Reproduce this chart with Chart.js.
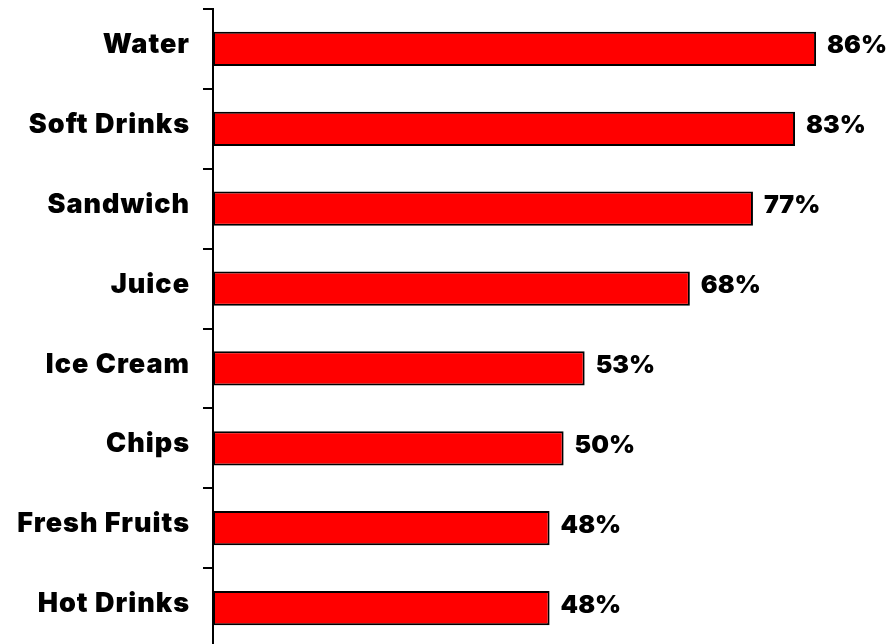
<!DOCTYPE html>
<html>
<head>
<meta charset="utf-8">
<title>Popular items</title>
<script src="https://cdn.jsdelivr.net/npm/chart.js@4/dist/chart.umd.min.js"></script>
<style>
  html, body { margin: 0; padding: 0; background: #fff; overflow: hidden; }
  #wrap { width: 889px; height: 644px; overflow: hidden; }
</style>
</head>
<body>
<div id="wrap">
  <canvas id="itemsChart" width="889" height="648"></canvas>
</div>
<script>
// Share of people choosing each item (%)
const categories = ['Water', 'Soft Drinks', 'Sandwich', 'Juice', 'Ice Cream', 'Chips', 'Fresh Fruits', 'Hot Drinks'];
const shares = [86, 83, 77, 68, 53, 50, 48, 48];

const fontFamily = 'Inter, "DejaVu Sans", sans-serif';

// Slightly wider spacing for the heavy category names
const wideText = {
  id: 'wideText',
  beforeDraw(chart) {
    chart.ctx.letterSpacing = '1px';
  }
};

// Writes the percentage just past the end of every bar
const valueLabels = {
  id: 'valueLabels',
  afterDatasetsDraw(chart) {
    const ctx = chart.ctx;
    const meta = chart.getDatasetMeta(0);
    ctx.save();
    ctx.letterSpacing = '0px';
    ctx.font = '900 25px ' + fontFamily;
    ctx.fillStyle = '#000';
    ctx.textAlign = 'left';
    ctx.textBaseline = 'middle';
    meta.data.forEach((bar, i) => {
      ctx.fillText(shares[i] + '%', bar.x + 11, bar.y - 3);
    });
    ctx.restore();
  }
};

const canvas = document.getElementById('itemsChart');
new Chart(canvas, {
  type: 'bar',
  data: {
    labels: categories,
    datasets: [{
      data: shares,
      backgroundColor: '#ff0000',
      borderColor: '#000',
      borderWidth: 2,
      borderSkipped: false,
      barPercentage: 0.43,
      categoryPercentage: 1
    }]
  },
  options: {
    indexAxis: 'y',
    responsive: false,
    animation: false,
    layout: { padding: { top: 9, right: 0, bottom: 0, left: 0 } },
    plugins: {
      legend: { display: false },
      tooltip: { enabled: false }
    },
    scales: {
      x: {
        display: false,
        min: 0,
        max: 96.4
      },
      y: {
        afterFit(scale) {
          scale.width = 213;
          // no extra room for half a label above and below
          scale.paddingTop = 0;
          scale.paddingBottom = 0;
        },
        border: { display: true, color: '#000', width: 2 },
        grid: {
          drawOnChartArea: false,
          drawTicks: true,
          tickLength: 10,
          color: '#000',
          lineWidth: 2
        },
        ticks: {
          color: '#000',
          padding: 13,
          labelOffset: -4,
          font: { family: fontFamily, size: 27, weight: '900' }
        }
      }
    }
  },
  plugins: [wideText, valueLabels]
});
</script>
</body>
</html>
